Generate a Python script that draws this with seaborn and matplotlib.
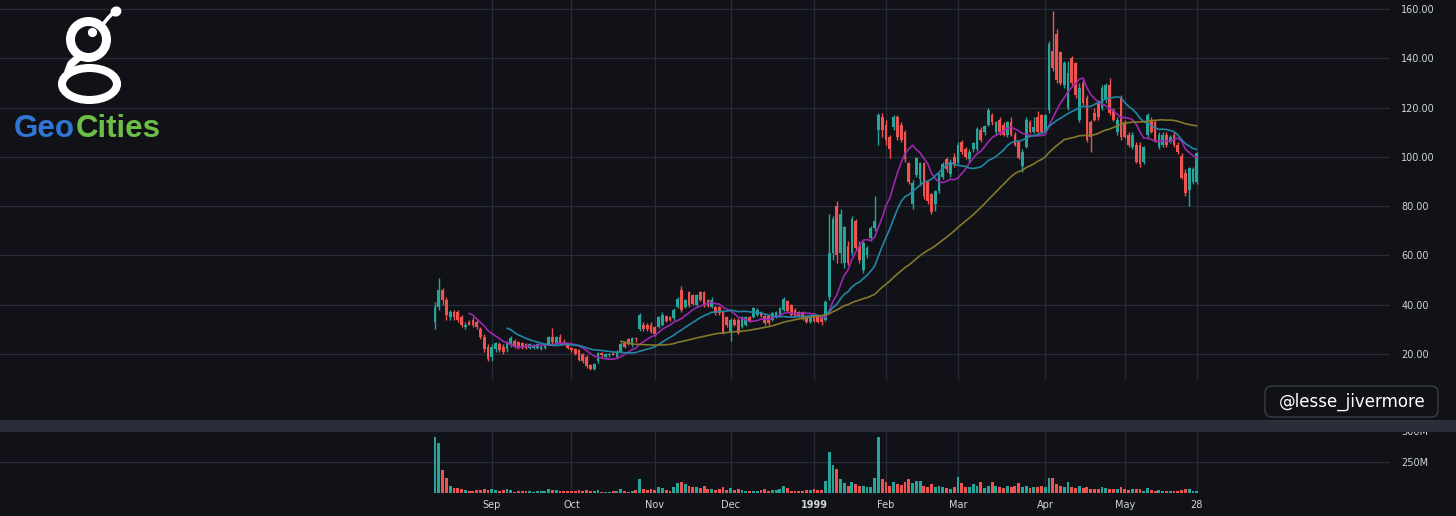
import numpy as np
import pandas as pd
import matplotlib
matplotlib.use("Agg")
import matplotlib.pyplot as plt
import matplotlib.patches as mpatches
import seaborn as sns

# ── daily OHLC (USD), Aug-11-1998 .. May-28-1999 ──
opens = [
    33, 39, 46, 42, 35, 37, 37, 35, 31, 33, 34, 33, 30, 27, 23,                       # Aug
    19, 22, 24, 23, 22, 23.5, 25.5, 25, 24.5, 24, 22.5, 22.5, 22.5, 22, 22.5, 24, 27, 24, 27, 25, 24,  # Sep
    22.5, 22, 21.5, 20, 19, 15.5, 14, 17, 20.5, 19, 19.5, 20.5, 19, 21, 24.5, 26, 23.5, 26.5, 30, 32, 32, 32,  # Oct
    31, 31, 32, 35.5, 35, 34.5, 39, 46, 39, 45, 44, 40, 45, 45, 42, 39, 39, 39, 37, 35,  # Nov
    28.5, 34, 34, 31, 32, 35, 35, 36, 37, 35.5, 35.5, 34, 35, 36, 38, 41.5, 40, 38, 37, 37, 35, 33,  # Dec
    36, 35, 35, 34, 43, 61, 80, 61, 57, 64, 61, 74, 64, 54, 60, 67, 71, 111, 116,  # Jan
    113, 108, 112, 116, 113, 110, 97.5, 81, 92.5, 91, 97.5, 90, 85, 81, 86, 92, 99, 93, 100,  # Feb
    97.5, 106, 103, 99, 103, 103, 111, 110, 113, 117, 110, 115, 113, 109, 114, 109, 106, 96.5, 104, 114, 110, 116, 117,  # Mar
    110, 119, 143, 150, 142.5, 129, 120, 140, 138, 115, 130, 124, 114, 118, 122, 120, 123, 129, 119, 110, 124,  # Apr
    114, 109, 104, 105, 105, 98, 109, 115, 114, 104, 105, 109, 106, 109, 105, 100.5, 93.5, 86.5, 90, 90,  # May
]
highs = [
    41, 51, 47, 43, 38, 38, 38, 36, 33, 34, 35, 34, 31, 28, 24,
    24, 25, 25, 24, 25.5, 27.5, 26, 25.5, 25, 24.5, 24.5, 24, 24.5, 23.5, 24.5, 27.5, 30.5, 27.5, 28, 26, 24.5,
    23, 22.5, 22, 20.5, 19.5, 16, 16.5, 21, 21, 20.5, 20.5, 21, 21.5, 25, 25, 26.5, 27, 27, 36.5, 33, 32.5, 33,
    31.5, 35.5, 37, 36, 35.5, 38.5, 43, 47.5, 42.5, 45.5, 44.5, 44.5, 45.5, 45.5, 42.5, 43, 39.5, 39.5, 37.5, 35.5,
    34.5, 34.5, 34.5, 35.5, 35.5, 35.5, 39, 38.5, 37.5, 36, 36, 37, 37.5, 39, 43, 42, 40.5, 38.5, 37.5, 37.5, 35.5, 35.5,
    36.5, 35.5, 35.5, 42, 77, 76, 82, 79, 72, 66, 76, 75, 66, 66, 64, 72, 84, 118, 118,
    115, 109, 117, 117, 114, 111, 98, 90.5, 100, 98, 98, 90.5, 85.5, 86.5, 93.5, 98, 100, 99, 101.5,
    106, 107, 104, 103, 106, 112, 112, 113, 120, 118, 114.5, 116, 114, 114.5, 116, 110, 107, 103, 116, 115, 116, 118.5, 117.5,
    117.5, 147, 159, 152, 143, 139, 139, 141, 138.5, 130, 131, 125, 115, 120, 123, 129, 130, 132, 120, 116, 125,
    115, 110, 110, 106, 106, 104.5, 118, 116, 115, 110, 110, 110, 109, 110, 106, 101.5, 95, 96, 96, 102,
]
lows = [
    30, 38, 40, 34, 34, 34, 33, 31, 30, 32, 31, 30, 26, 21, 17,
    17, 21, 21, 20, 21, 23, 22.5, 22, 22, 22, 22, 22, 22, 21.5, 22, 23.5, 24, 23.5, 23.5, 23.5, 22,
    21, 19.5, 17, 16.5, 14.5, 13.5, 13.5, 16.5, 19, 18.5, 19, 19.5, 18.5, 20.5, 22.5, 23.5, 23, 25, 29.5, 29.5, 29.5, 28.5,
    27.5, 30.5, 31.5, 33, 33.5, 34, 38.5, 37, 38.5, 39, 40, 39.5, 41.5, 39, 39, 38.5, 36, 36, 28, 31,
    25.5, 31.5, 28, 30.5, 31.5, 33, 34.5, 35.5, 35, 32, 32, 33.5, 34.5, 35.5, 37.5, 37, 35.5, 35, 35, 34, 32.5, 32.5,
    33, 32.5, 32, 33.5, 42, 58, 57, 57, 55, 56, 60, 62, 57, 53, 59, 66, 70, 105, 108,
    105, 99.5, 111, 107, 106, 98, 89, 79, 92, 88, 83, 81, 77, 78, 85.5, 91, 94, 92, 96,
    97, 101, 99, 98, 102, 102.5, 106, 109, 112.5, 113, 109, 109, 108.5, 108, 108.5, 104.5, 99, 94, 103.5, 109.5, 109.5, 109.5, 109.5,
    109.5, 118, 135, 130, 129, 128, 119, 129, 124, 114, 121, 106, 102, 114.5, 115, 119, 122, 117, 114.5, 109, 107,
    107.5, 104, 103, 97.5, 96, 97, 108, 109.5, 106, 103, 104, 104, 105.5, 104, 101, 91, 84, 80, 89, 89,
]
closes = [
    39, 46, 42, 36, 37, 35, 34, 32, 32, 32, 32, 31, 27, 22, 18,
    23, 24.5, 21.5, 21, 25, 26.5, 23, 23, 22.5, 22.5, 24, 23.5, 24, 23, 24, 27, 25, 27, 24, 24, 22.5,
    21.5, 20, 17.5, 17, 15, 14, 16, 20.5, 19.5, 20, 20, 19.8, 21, 24, 23, 24, 26.5, 26, 36, 30, 30, 29,
    28, 35, 36, 33.5, 34, 38, 42.5, 38, 42, 40, 40.5, 44, 42, 40, 39.5, 42, 36.5, 36.5, 29, 32,
    34, 32, 28.5, 35, 35, 33.5, 38.5, 38, 35.5, 32.5, 32.5, 36.5, 37, 38.5, 42.5, 37.5, 36, 35.5, 35.5, 34.5, 33, 35,
    33.5, 33, 33, 41, 61, 75, 60, 77, 71.5, 57, 75, 63, 58, 65, 63, 71, 74, 117, 111,
    107, 103, 116, 108, 107, 99, 90, 89.5, 99.5, 97.5, 84, 82, 77.6, 86, 93, 97, 95, 98, 97,
    105, 102, 100, 102, 105.5, 111.5, 107, 112.5, 119, 114, 114, 110, 109, 114, 109, 105, 99.5, 102, 115, 110, 112, 110, 110,
    117, 146, 136, 131, 130, 138, 134, 130, 125, 128, 122, 107, 108, 115, 116, 128, 129, 118, 115, 115, 108,
    108, 104.8, 109, 98, 97, 104, 117, 110, 107, 109, 109, 105, 108, 105, 102, 91.4, 85.4, 95.5, 95, 101.6,
]
# volume in millions of shares
volumes = [
    450, 405, 185, 120, 60, 40, 40, 35, 25, 20, 18, 22, 25, 30, 28,
    30, 25, 20, 22, 35, 25, 12, 15, 18, 18, 15, 12, 14, 16, 20, 30, 28, 25, 20, 18, 15,
    18, 20, 22, 18, 25, 20, 15, 22, 12, 10, 12, 15, 20, 30, 15, 12, 18, 25, 113, 35, 25, 30,
    28, 45, 40, 25, 20, 45, 80, 90, 70, 60, 45, 50, 40, 55, 30, 35, 25, 30, 45, 28,
    40, 25, 30, 25, 20, 15, 20, 18, 25, 35, 20, 22, 25, 35, 60, 40, 20, 15, 18, 20, 25, 22,
    30, 25, 28, 95, 330, 225, 190, 115, 80, 60, 90, 70, 55, 60, 45, 50, 120, 450, 110,
    90, 60, 85, 70, 65, 90, 110, 80, 100, 95, 60, 50, 70, 45, 60, 45, 40, 35, 50,
    130, 80, 50, 45, 70, 60, 85, 40, 55, 90, 60, 45, 40, 60, 45, 55, 80, 45, 60, 40, 45, 50, 55,
    45, 125, 125, 70, 55, 45, 85, 50, 40, 60, 40, 45, 30, 35, 30, 50, 40, 35, 30, 30, 45,
    35, 25, 30, 30, 35, 20, 40, 25, 20, 25, 15, 20, 15, 20, 15, 25, 35, 30, 20, 15,
]
market_holidays = ["1998-09-07", "1998-11-26", "1998-12-25", "1999-01-01",
                   "1999-01-18", "1999-02-15", "1999-04-02"]
month_labels = ["Sep", "Oct", "Nov", "Dec", "1999", "Feb", "Mar", "Apr", "May", "28"]
price_ticks = [20, 40, 60, 80, 100, 120, 140, 160]
volume_ticks = [250, 500]
ma_windows = [10, 20, 50]

# ── styling ──
BG = "#111217"
GRID = "#292a3a"
UP = "#26a69a"
DOWN = "#ef5350"
TXT = "#d1d4dc"
MA_COLORS = {10: "#9c27b0", 20: "#2385a6", 50: "#85782a"}

sns.set_theme(style="dark", rc={"axes.facecolor": BG, "figure.facecolor": BG})
plt.rcParams["font.family"] = ["DejaVu Sans"]

# ── frame ──
dates = pd.bdate_range("1998-08-11", "1999-05-28")
dates = dates[~dates.isin(pd.to_datetime(market_holidays))]
df = pd.DataFrame({"date": dates, "open": opens, "high": highs,
                   "low": lows, "close": closes, "volume": volumes})
df["idx"] = np.arange(len(df))
df["dir"] = np.where(df["close"] >= df["open"], "up", "down")
for w in ma_windows:
    df[f"ma{w}"] = df["close"].rolling(w).mean()

months = df["date"].dt.to_period("M")
month_starts = list(df.loc[months != months.shift(), "idx"].iloc[1:]) + [int(df["idx"].iloc[-1])]

# ── figure in pixel units ──
W, H = 1456, 516
fig = plt.figure(figsize=(W / 100, H / 100), dpi=100)


def box(x0, y0, x1, y1):
    return [x0 / W, 1 - y1 / H, (x1 - x0) / W, (y1 - y0) / H]


BAR_PX = 3.79
X0_PX = 435
xlim = (-X0_PX / BAR_PX, (1390 - X0_PX) / BAR_PX)

ax = fig.add_axes(box(0, 0, 1390, 380))
axv = fig.add_axes(box(0, 426, 1390, 493))

# candles
colors = np.where(df["dir"] == "up", UP, DOWN)
ax.vlines(df["idx"], df["low"], df["high"], colors=colors, lw=1, zorder=3)
body_lo = np.minimum(df["open"], df["close"])
body_h = np.maximum((df["close"] - df["open"]).abs(), 0.35)
ax.bar(df["idx"], body_h, bottom=body_lo, width=0.72, color=colors, zorder=4, linewidth=0)

for w in ma_windows:
    sns.lineplot(data=df, x="idx", y=f"ma{w}", ax=ax, color=MA_COLORS[w], lw=1.2, zorder=5)

ax.set_xlim(*xlim)
ax.set_ylim(160 - 371 * 0.4057, 160 + 9 * 0.4057)
ax.set_xticks(month_starts)
ax.set_xticklabels([])
ax.set_yticks(price_ticks)
ax.set_yticklabels([f"{v:.2f}" for v in price_ticks])
ax.yaxis.tick_right()
ax.tick_params(axis="y", length=0, pad=8, labelcolor=TXT, labelsize=7)
ax.tick_params(axis="x", length=0)
ax.grid(True, color=GRID, lw=0.9)
ax.set_xlabel("")
ax.set_ylabel("")
for s in ax.spines.values():
    s.set_visible(False)

# volume
sns.barplot(data=df, x="idx", y="volume", hue="dir", palette={"up": UP, "down": DOWN},
            native_scale=True, dodge=False, width=0.75, saturation=1,
            errorbar=None, legend=False, ax=axv, zorder=3, linewidth=0)
axv.set_xlim(*xlim)
axv.set_ylim(0, (493 - 426) * 250 / 31)
axv.set_xticks(month_starts)
axv.set_xticklabels(month_labels)
axv.get_xticklabels()[month_labels.index("1999")].set_fontweight("bold")
axv.set_yticks(volume_ticks)
axv.set_yticklabels([f"{v}M" for v in volume_ticks])
axv.yaxis.tick_right()
axv.tick_params(axis="y", length=0, pad=8, labelcolor=TXT, labelsize=7)
axv.tick_params(axis="x", length=0, pad=5, labelcolor=TXT, labelsize=7)
axv.grid(True, color=GRID, lw=0.9)
axv.set_xlabel("")
axv.set_ylabel("")
for s in axv.spines.values():
    s.set_visible(False)

# ── overlay: pane separator, logo, watermark ──
ov = fig.add_axes([0, 0, 1, 1])
ov.set_xlim(0, W)
ov.set_ylim(H, 0)
ov.axis("off")
ov.patch.set_alpha(0)

ov.add_patch(mpatches.Rectangle((0, 420), W, 12, color="#2a2e39", lw=0))

# GeoCities "g" mark
ov.add_patch(mpatches.Ellipse((89.5, 84), 55, 32, fill=False, ec="white", lw=5.8))
ov.plot([79, 71, 68], [57, 64, 72], color="white", lw=5.5, solid_capstyle="round")
ov.add_patch(mpatches.Wedge((88.5, 39.5), 22.5, 0, 360, width=9, color="white", lw=0))
ov.add_patch(mpatches.Circle((92.5, 32.5), 4.6, color="white", lw=0))
ov.plot([104, 108, 112], [23, 18, 14], color="white", lw=2.6, solid_capstyle="round")
ov.add_patch(mpatches.Ellipse((116, 11.5), 11, 10, angle=-25, color="white", lw=0))

ov.text(14, 137, "Geo", color="#3176d4", fontsize=22.5, fontweight="bold",
        family="Liberation Sans", va="baseline", ha="left")
ov.text(76, 137, "Cities", color="#6cbe46", fontsize=22.5, fontweight="bold",
        family="Liberation Sans", va="baseline", ha="left")

ov.add_patch(mpatches.FancyBboxPatch((1265, 386), 173, 31,
                                     boxstyle="round,pad=0,rounding_size=7",
                                     fc=BG, ec="#3b3e48", lw=1))
ov.text(1352, 401.5, "@lesse_jivermore", color="white", fontsize=12,
        ha="center", va="center")

fig.savefig("out.png", dpi=100, facecolor=BG)
plt.close(fig)
